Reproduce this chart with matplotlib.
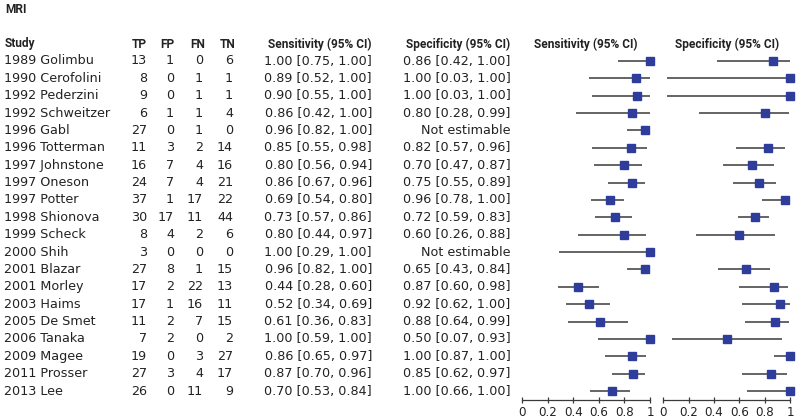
import matplotlib
matplotlib.use("Agg")
import matplotlib.pyplot as plt
import matplotlib.transforms as mtransforms

studies = ["1989 Golimbu", "1990 Cerofolini", "1992 Pederzini", "1992 Schweitzer",
           "1996 Gabl", "1996 Totterman", "1997 Johnstone", "1997 Oneson",
           "1997 Potter", "1998 Shionova", "1999 Scheck", "2000 Shih",
           "2001 Blazar", "2001 Morley", "2003 Haims", "2005 De Smet",
           "2006 Tanaka", "2009 Magee", "2011 Prosser", "2013 Lee"]
TP = [13, 8, 9, 6, 27, 11, 16, 24, 37, 30, 8, 3, 27, 17, 17, 11, 7, 19, 27, 26]
FP = [1, 0, 0, 1, 0, 3, 7, 7, 1, 17, 4, 0, 8, 2, 1, 2, 2, 0, 3, 0]
FN = [0, 1, 1, 1, 1, 2, 4, 4, 17, 11, 2, 0, 1, 22, 16, 7, 0, 3, 4, 11]
TN = [6, 1, 1, 4, 0, 14, 16, 21, 22, 44, 6, 0, 15, 13, 11, 15, 2, 27, 17, 9]

sens    = [1.00, 0.89, 0.90, 0.86, 0.96, 0.85, 0.80, 0.86, 0.69, 0.73, 0.80, 1.00, 0.96, 0.44, 0.52, 0.61, 1.00, 0.86, 0.87, 0.70]
sens_lo = [0.75, 0.52, 0.55, 0.42, 0.82, 0.55, 0.56, 0.67, 0.54, 0.57, 0.44, 0.29, 0.82, 0.28, 0.34, 0.36, 0.59, 0.65, 0.70, 0.53]
sens_hi = [1.00, 1.00, 1.00, 1.00, 1.00, 0.98, 0.94, 0.96, 0.80, 0.86, 0.97, 1.00, 1.00, 0.60, 0.69, 0.83, 1.00, 0.97, 0.96, 0.84]

spec    = [0.86, 1.00, 1.00, 0.80, None, 0.82, 0.70, 0.75, 0.96, 0.72, 0.60, None, 0.65, 0.87, 0.92, 0.88, 0.50, 1.00, 0.85, 1.00]
spec_lo = [0.42, 0.03, 0.03, 0.28, None, 0.57, 0.47, 0.55, 0.78, 0.59, 0.26, None, 0.43, 0.60, 0.62, 0.64, 0.07, 0.87, 0.62, 0.66]
spec_hi = [1.00, 1.00, 1.00, 0.99, None, 0.96, 0.87, 0.89, 1.00, 0.83, 0.88, None, 0.84, 0.98, 1.00, 0.99, 0.93, 1.00, 0.97, 1.00]

tick_vals = [0, 0.2, 0.4, 0.6, 0.8, 1]
tick_labels = ["0", "0.2", "0.4", "0.6", "0.8", "1"]

W, H = 800, 418
fig = plt.figure(figsize=(W / 100, H / 100), dpi=100)
plt.rcParams['font.family'] = ['DejaVu Sans']

FS = 9.2
HFAM = "Roboto"
HFS = 8.6
TXT = "#222222"
LINE = "#3a3a3a"
MK = "#2E3C9C"

row0, dy = 61.0, 17.37
ax_bottom_px, ax_top_px = 400.0, 52.0
n = len(studies)
y_bot = (ax_bottom_px - row0) / dy
y_top = (ax_top_px - row0) / dy


def make_ax(left_px, width_px):
    ax = fig.add_axes([left_px / W, 1 - ax_bottom_px / H, width_px / W,
                       (ax_bottom_px - ax_top_px) / H])
    ax.set_xlim(0, 1)
    ax.set_ylim(y_bot, y_top)
    for s in ["top", "right", "left"]:
        ax.spines[s].set_visible(False)
    ax.spines["bottom"].set_color(LINE)
    ax.spines["bottom"].set_linewidth(0.9)
    ax.set_yticks([])
    ax.set_xticks(tick_vals)
    ax.set_xticklabels(tick_labels)
    ax.tick_params(axis="x", direction="inout", length=5, width=0.9,
                   color=LINE, labelsize=8.6, pad=1.5, labelcolor=TXT)
    ax.patch.set_alpha(0)
    return ax


ax_se = make_ax(522, 128)
ax_sp = make_ax(663, 127.5)

for i in range(n):
    ax_se.plot([sens_lo[i], sens_hi[i]], [i, i], color=LINE, lw=1.1,
               solid_capstyle="butt", clip_on=False)
    ax_se.plot(sens[i], i, marker="s", ms=6, color=MK, mec=MK, clip_on=False)
    if spec[i] is not None:
        ax_sp.plot([spec_lo[i], spec_hi[i]], [i, i], color=LINE, lw=1.1,
                   solid_capstyle="butt", clip_on=False)
        ax_sp.plot(spec[i], i, marker="s", ms=6, color=MK, mec=MK, clip_on=False)

# text table: x in figure pixels, y in row data coordinates
trans = mtransforms.blended_transform_factory(fig.transFigure, ax_se.transData)
y_head = (44.0 - row0) / dy


def fx(px):
    return px / W


fig.text(fx(5), 1 - 9.5 / H, "MRI", fontsize=HFS, fontweight="bold", family=HFAM,
         color=TXT, va="center", ha="left")

heads = [("Study", 5, "left"), ("TP", 146.5, "right"), ("FP", 174.5, "right"),
         ("FN", 205.5, "right"), ("TN", 235, "right"),
         ("Sensitivity (95% CI)", 372, "right"), ("Specificity (95% CI)", 510.5, "right"),
         ("Sensitivity (95% CI)", 586, "center"), ("Specificity (95% CI)", 727.5, "center")]
for txt, x, ha in heads:
    fig.text(fx(x), y_head, txt, transform=trans, fontsize=HFS, fontweight="bold",
             family=HFAM, color=TXT, va="center", ha=ha)

for i in range(n):
    kw = dict(transform=trans, fontsize=FS, color=TXT, va="center")
    fig.text(fx(4), i, studies[i], ha="left", **kw)
    fig.text(fx(147), i, str(TP[i]), ha="right", **kw)
    fig.text(fx(174), i, str(FP[i]), ha="right", **kw)
    fig.text(fx(203), i, str(FN[i]), ha="right", **kw)
    fig.text(fx(233), i, str(TN[i]), ha="right", **kw)
    fig.text(fx(372), i, f"{sens[i]:.2f} [{sens_lo[i]:.2f}, {sens_hi[i]:.2f}]", ha="right", **kw)
    if spec[i] is None:
        st = "Not estimable"
    else:
        st = f"{spec[i]:.2f} [{spec_lo[i]:.2f}, {spec_hi[i]:.2f}]"
    fig.text(fx(510.5), i, st, ha="right", **kw)

fig.savefig("out.png", dpi=100, facecolor="white")
